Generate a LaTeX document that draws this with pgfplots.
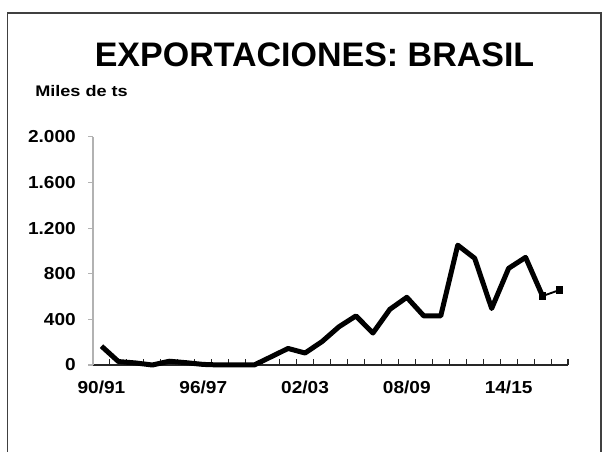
\documentclass[border=0pt]{standalone}
\usepackage{fontspec}
\setmainfont{Liberation Sans}
\newfontfamily\tickfont[FakeStretch=1.1]{Liberation Sans}
\newfontfamily\milesfont[FakeStretch=1.18]{Liberation Sans}
\usepackage{pgfplots}
\pgfplotsset{compat=1.18}
\begin{document}
\begin{tikzpicture}
\useasboundingbox (0,0) rectangle (452.25pt,339pt);
\draw[black!75, line width=1.1pt] (5.6pt,0) -- (5.6pt,329.25pt) -- (450.75pt,329.25pt) -- (450.75pt,0);
\node[anchor=base, inner sep=0pt, font=\fontsize{25.5}{28}\selectfont\bfseries] at (235.9pt,288.75pt) {EXPORTACIONES: BRASIL};
\node[anchor=base west, inner sep=0pt, font=\milesfont\fontsize{11.5}{13}\selectfont\bfseries] at (26.25pt,266.25pt) {Miles de ts};
\begin{axis}[
  at={(69.75pt,65.25pt)}, anchor=south west,
  scale only axis, width=356.25pt, height=171.2pt,
  xmin=-0.5, xmax=27.5, ymin=0, ymax=2000,
  clip=false,
  axis x line*=bottom, axis y line*=left,
  x axis line style={black!85, line width=1pt},
  y axis line style={gray!60, line width=0.8pt},
  tick align=inside,
  xtick={0,6,12,18,24},
  xticklabels={90/91,96/97,02/03,08/09,14/15},
  every major x tick/.append style={draw=none},
  minor xtick={-0.5,0.5,...,27.5},
  every minor x tick/.append style={black!85, line width=0.8pt},
  minor tick length=4.5pt,
  major tick length=3.75pt,
  ytick={0,400,800,1200,1600,2000},
  yticklabels={0,400,800,1.200,1.600,2.000},
  every major y tick/.append style={gray!60, line width=0.8pt, xshift=-3.75pt},
  ticklabel style={font=\tickfont\fontsize{13}{14}\selectfont\bfseries},
  xticklabel style={anchor=north, inner sep=0pt, yshift=-12pt},
  yticklabel style={anchor=east, inner sep=0pt, xshift=-12.75pt},
]
\addplot[black, line width=3.75pt, line join=round] coordinates {
(0,165)(1,30)(2,18)(3,0)(4,33)(5,20)(6,5)(7,0)(8,0)(9,0)(10,72)(11,145)(12,105)(13,205)(14,335)(15,430)(16,280)(17,488)(18,593)(19,430)(20,430)(21,1050)(22,935)(23,495)(24,847)(25,943)(26,604)
};
\addplot[black, line width=1.4pt, mark=square*, mark size=2.2pt] coordinates {(26,604)(27,657)};
\end{axis}
\end{tikzpicture}
\end{document}
